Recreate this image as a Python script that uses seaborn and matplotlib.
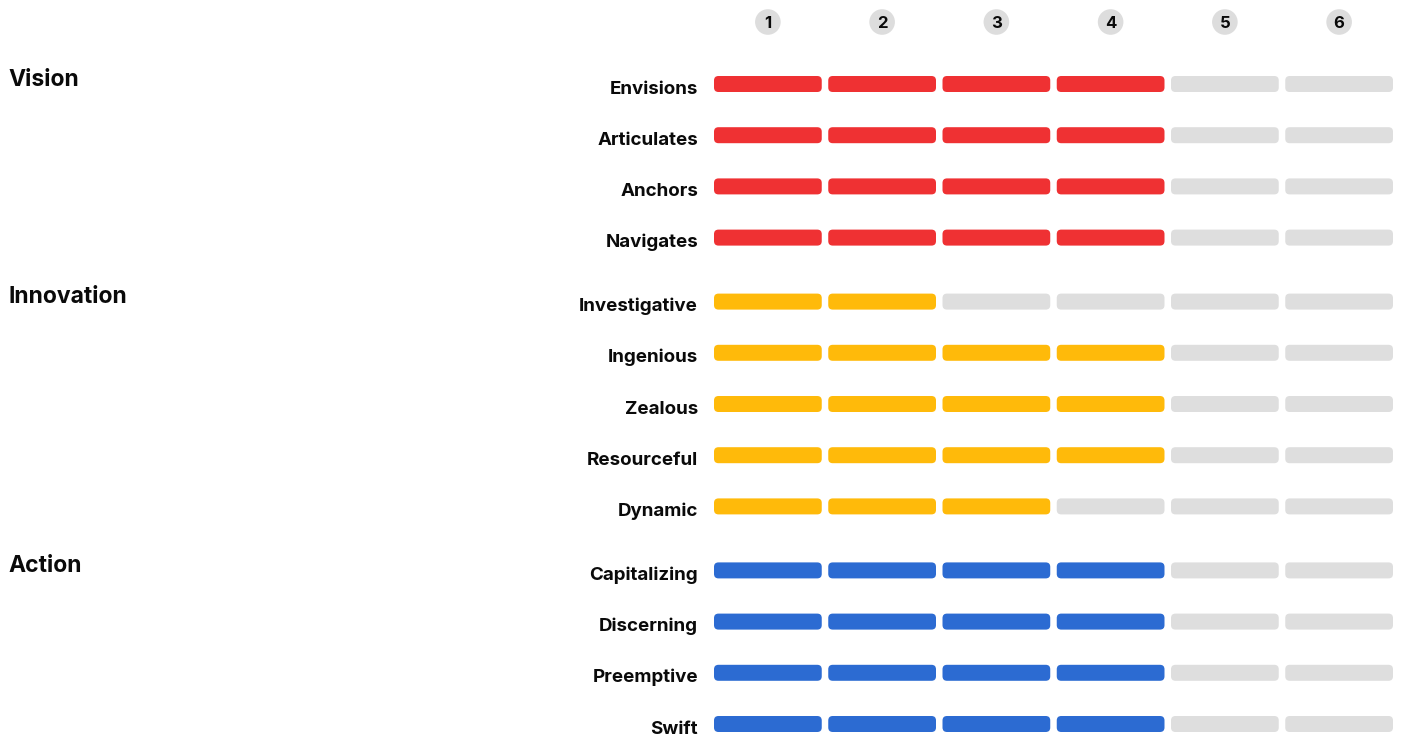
import matplotlib
matplotlib.use("Agg")
import matplotlib.pyplot as plt
import matplotlib.transforms as mtransforms
from matplotlib.patches import FancyBboxPatch
import seaborn as sns
import pandas as pd

# ---------------- data ----------------
groups = ["Vision", "Innovation", "Action"]
group_colors = ["#EF3133", "#FFBA0A", "#2C6BD2"]
vision_traits = ["Envisions", "Articulates", "Anchors", "Navigates"]
vision_scores = [4, 4, 4, 4]
innovation_traits = ["Investigative", "Ingenious", "Zealous", "Resourceful", "Dynamic"]
innovation_scores = [2, 4, 4, 4, 3]
action_traits = ["Capitalizing", "Discerning", "Preemptive", "Swift"]
action_scores = [4, 4, 4, 4]
scale_levels = [1, 2, 3, 4, 5, 6]

empty_color = "#DEDEDE"
text_color = "#0A0A0A"

# ---------------- layout ----------------
W, H, DPI = 1406, 740, 100
pitch_px = 114.25          # px per scale step
row_px = 51.2              # px per row
col1_px = 767.875          # pixel centre of scale level 1
row0_px = 84.0             # pixel centre of first row
group_gap = 0.25           # extra rows between groups
seg_w = 107.75 / pitch_px
seg_h = 16.0 / row_px
round_px = 4.5

rows = []
pos = 0.0
for g, (traits, scores) in enumerate([(vision_traits, vision_scores),
                                      (innovation_traits, innovation_scores),
                                      (action_traits, action_scores)]):
    for i, (t, s) in enumerate(zip(traits, scores)):
        rows.append(dict(group=groups[g], gi=g, first=(i == 0), trait=t, score=s, pos=pos))
        pos += 1
    pos += group_gap
df = pd.DataFrame(rows)

sns.set_theme(style="white")
plt.rcParams["font.family"] = ["Inter", "DejaVu Sans"]

fig = plt.figure(figsize=(W / DPI, H / DPI), dpi=DPI)
ax = fig.add_axes([0, 0, 1, 1])
ax.set_xlim(1 - col1_px / pitch_px, 1 + (W - col1_px) / pitch_px)
ax.set_ylim((H - row0_px) / row_px, -row0_px / row_px)
ax.axis("off")

aspect = pitch_px / row_px
rsize = round_px / pitch_px

for _, r in df.iterrows():
    color = group_colors[r.gi]
    for lvl in scale_levels:
        fc = color if lvl <= r.score else empty_color
        p = FancyBboxPatch((lvl - seg_w / 2, r.pos - seg_h / 2), seg_w, seg_h,
                           boxstyle=f"round,pad=0,rounding_size={rsize}",
                           mutation_aspect=aspect, facecolor=fc, edgecolor="none")
        ax.add_patch(p)
    ax.text(1 - (col1_px - 698) / pitch_px, r.pos + 9.5 / row_px, r.trait,
            ha="right", va="baseline", fontsize=13.5, fontweight="bold", color=text_color)

blend = mtransforms.blended_transform_factory(fig.transFigure, ax.transData)
for _, r in df[df["first"]].iterrows():
    ax.text(8 / W, r.pos + 1.5 / row_px, r.group, transform=blend,
            ha="left", va="baseline", fontsize=16.5, fontweight="bold", color=text_color)

# header: scale level markers
header_y = (22 - row0_px) / row_px
hdr = pd.DataFrame({"level": scale_levels, "y": [header_y] * len(scale_levels)})
sns.scatterplot(data=hdr, x="level", y="y", s=340, color="#DDDDDD",
                edgecolor="none", ax=ax, legend=False, zorder=3)
for lvl in scale_levels:
    ax.text(lvl, header_y, str(lvl), ha="center", va="center_baseline",
            fontsize=12, fontweight="bold", color=text_color, zorder=4)
ax.axis("off")

fig.savefig("out.png", dpi=DPI)
